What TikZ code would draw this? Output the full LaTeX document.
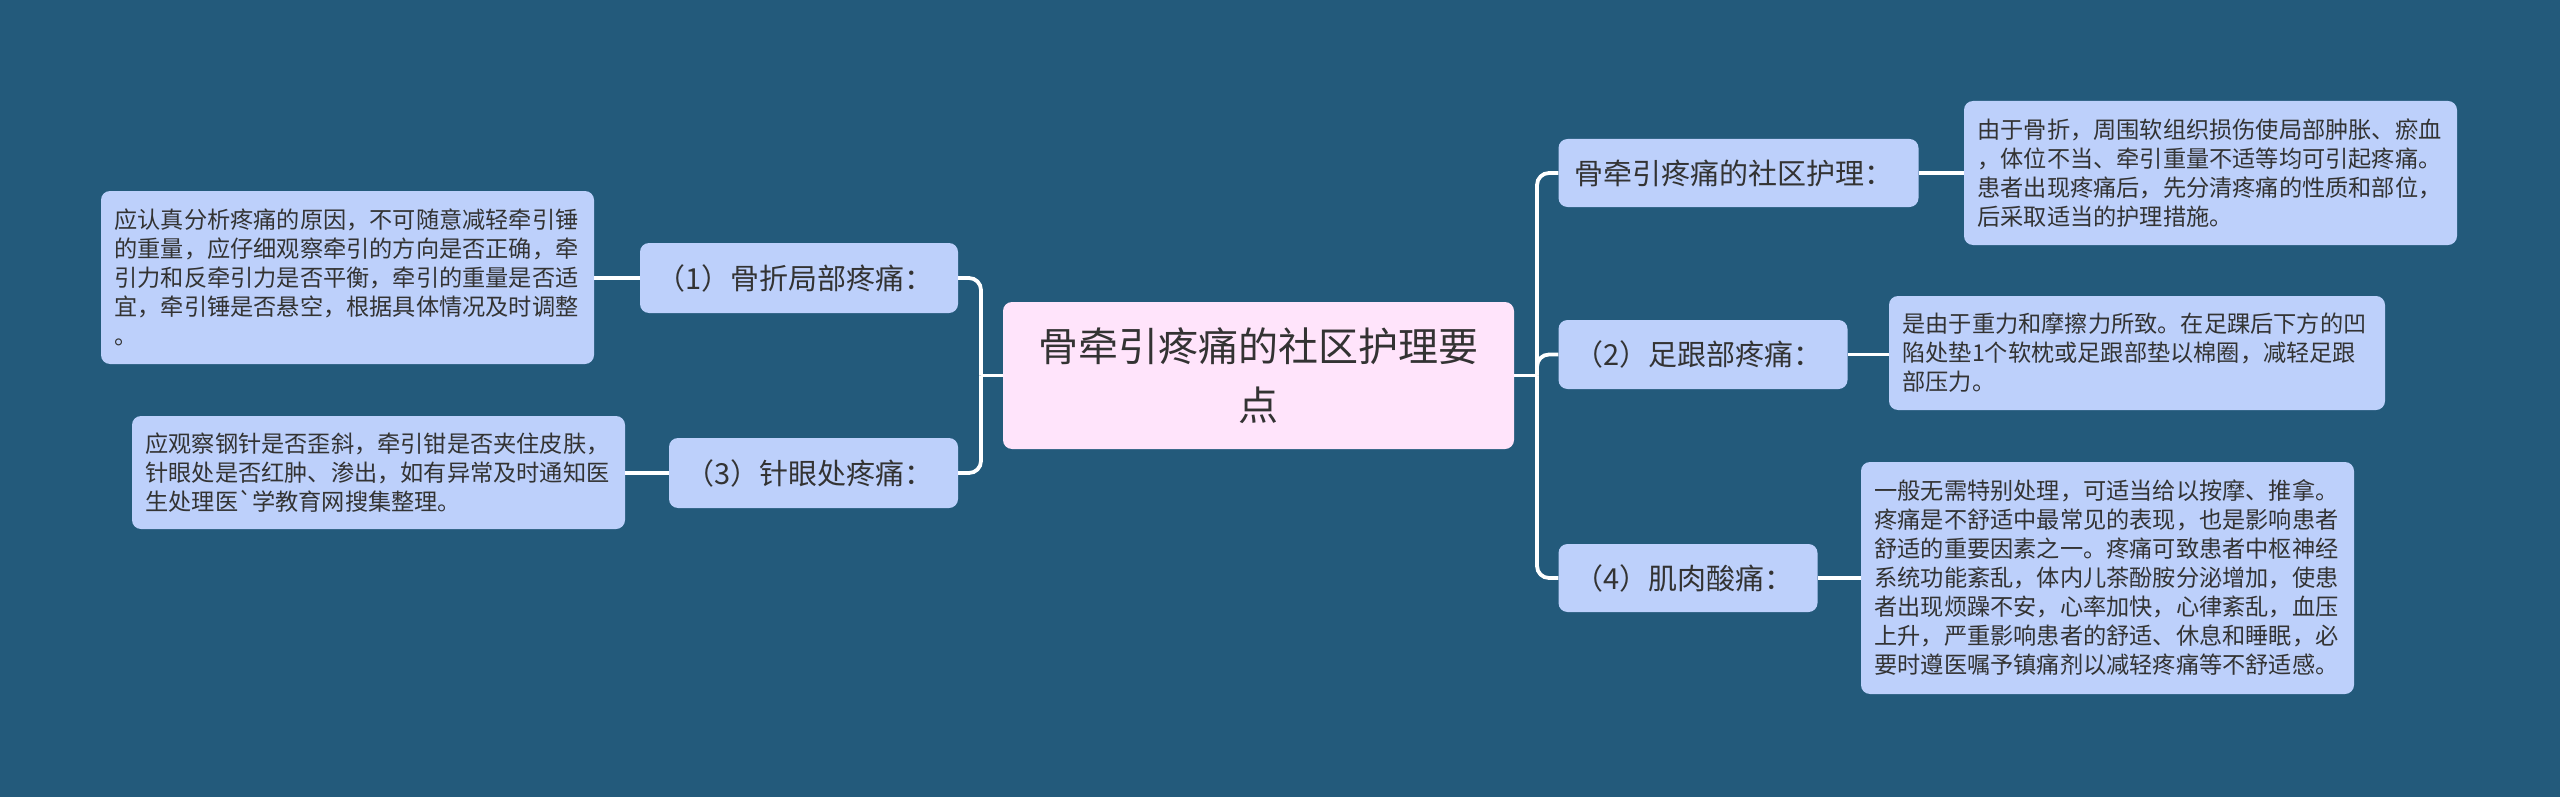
\documentclass[tikz,border=0pt]{standalone}
\usepackage{fontspec}
\newfontfamily\cjk{Noto Sans CJK SC}
\definecolor{bgc}{HTML}{235A7B}
\definecolor{nodec}{HTML}{BDD0FB}
\definecolor{rootc}{HTML}{FFE4FB}
\definecolor{txtc}{HTML}{333333}
\begin{document}
\begin{tikzpicture}[x=1pt,y=-1pt,
  box/.style={fill=nodec, rounded corners=9pt, text=txtc, inner sep=0pt, draw=none},
  rootbox/.style={box, fill=rootc, align=center, font=\cjk\fontsize{40}{58.5}\selectfont},
  midbox/.style={box, align=left, font=\cjk\fontsize{29}{34}\selectfont},
  leafbox/.style={box, align=left, font=\cjk\fontsize{23.2}{29}\selectfont},
  conn/.style={draw=white, line width=3.8pt},
  rc/.style={rounded corners=12pt}]
\fill[bgc] (0,0) rectangle (2560,797);
\useasboundingbox (0,0) rectangle (2560,797);

\node[rootbox, minimum width=511pt, minimum height=147pt] (c) at (1258.5,375.5) {骨牵引疼痛的社区护理要\\点};

\node[midbox, text width=286pt, minimum width=318pt, minimum height=70pt] (n1) at (799,278) {（1）骨折局部疼痛：};
\node[midbox, text width=257pt, minimum width=289pt, minimum height=70pt] (n3) at (813.5,473) {（3）针眼处疼痛：};
\node[midbox, text width=328pt, minimum width=360pt, minimum height=68pt] (r1) at (1738.5,173) {骨牵引疼痛的社区护理：};
\node[midbox, text width=257pt, minimum width=289pt, minimum height=69pt] (r2) at (1703,354.5) {（2）足跟部疼痛：};
\node[midbox, text width=227pt, minimum width=259pt, minimum height=68pt] (r4) at (1688,578) {（4）肌肉酸痛：};

\node[leafbox, text width=466pt, minimum width=493pt, minimum height=173pt] (l1) at (347.5,277.5) {应认真分析疼痛的原因，不可随意减轻牵引锤\\的重量，应仔细观察牵引的方向是否正确，牵\\引力和反牵引力是否平衡，牵引的重量是否适\\宜，牵引锤是否悬空，根据具体情况及时调整\\。};
\node[leafbox, text width=466pt, minimum width=493pt, minimum height=113pt] (l3) at (378.5,472.5) {应观察钢针是否歪斜，牵引钳是否夹住皮肤，\\针眼处是否红肿、渗出，如有异常及时通知医\\生处理医`学教育网搜集整理。};
\node[leafbox, text width=466pt, minimum width=493pt, minimum height=144pt] (lr1) at (2210.5,173) {由于骨折，周围软组织损伤使局部肿胀、瘀血\\，体位不当、牵引重量不适等均可引起疼痛。\\患者出现疼痛后，先分清疼痛的性质和部位，\\后采取适当的护理措施。};
\node[leafbox, text width=469pt, minimum width=496pt, minimum height=114pt] (lr2) at (2137,353) {是由于重力和摩擦力所致。在足踝后下方的凹\\陷处垫1个软枕或足跟部垫以棉圈，减轻足跟\\部压力。};
\node[leafbox, text width=466pt, minimum width=493pt, minimum height=232pt] (lr4) at (2107.5,578) {一般无需特别处理，可适当给以按摩、推拿。\\疼痛是不舒适中最常见的表现，也是影响患者\\舒适的重要因素之一。疼痛可致患者中枢神经\\系统功能紊乱，体内儿茶酚胺分泌增加，使患\\者出现烦躁不安，心率加快，心律紊乱，血压\\上升，严重影响患者的舒适、休息和睡眠，必\\要时遵医嘱予镇痛剂以减轻疼痛等不舒适感。};

\coordinate (jl) at (981,375.5);
\coordinate (jr) at (1537,375.5);
\draw[conn] (c.west) -- (jl);
\draw[conn, rc] (jl) |- (n1.east);
\draw[conn, rc] (jl) |- (n3.east);
\draw[conn] (c.east) -- (jr);
\draw[conn, rc] (jr) |- (r1.west);
\draw[conn, rc] (jr) |- (r2.west);
\draw[conn, rc] (jr) |- (r4.west);

\draw[conn] (n1.west) -- (l1.east |- n1.west);
\draw[conn] (n3.west) -- (l3.east |- n3.west);
\draw[conn] (r1.east) -- (lr1.west |- r1.east);
\draw[conn] (r2.east) -- (lr2.west |- r2.east);
\draw[conn] (r4.east) -- (lr4.west |- r4.east);
\end{tikzpicture}
\end{document}
